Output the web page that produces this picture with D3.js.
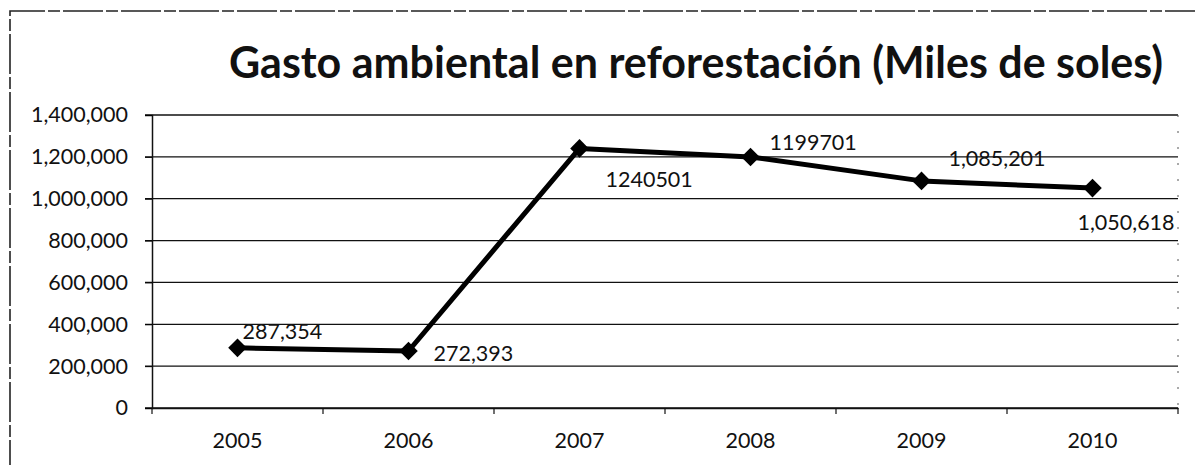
<!DOCTYPE html>
<html>
<head>
<meta charset="utf-8">
<script src="https://cdn.jsdelivr.net/npm/d3@7"></script>
<style>
  body { margin: 0; background: #fff; }
  text { font-family: Lato, "Open Sans", sans-serif; fill: #111; }
</style>
</head>
<body>
<svg id="chart" width="1195" height="465"></svg>
<script>
'use strict';

(() => {
  const years = ['2005', '2006', '2007', '2008', '2009', '2010'];
  const values = [287354, 272393, 1240501, 1199701, 1085201, 1050618];
  const labels = ['287,354', '272,393', '1240501', '1199701', '1,085,201', '1,050,618'];
  // label offset from the point: [dx, dy]
  const labelPos = [[5, -9], [25, 10], [26, 39], [19, -7], [27, -15], [-15, 42]];
  const yTicks = [0, 200000, 400000, 600000, 800000, 1000000, 1200000, 1400000];

  //dimensions
  const m = { left: 152, right: 1178, top: 115, bottom: 408 };
  const fs = '21.5px';
  const svg = d3.select('#chart');

  //outer dashed frame
  svg.append('path')
    .attr('d', 'M 10 480 L 10 11 L 1200 11')
    .attr('fill', 'none')
    .attr('stroke', '#222')
    .attr('stroke-width', 1.6)
    .attr('stroke-dasharray', '40 3 12 3');

  svg.append('text')
    .attr('x', 696)
    .attr('y', 78)
    .attr('text-anchor', 'middle')
    .style('font-size', '43px')
    .style('font-weight', 'bold')
    .text('Gasto ambiental en reforestación (Miles de soles)');

  const x = d3.scaleBand().domain(years).range([m.left, m.right]);
  const y = d3.scaleLinear().domain([0, 1400000]).range([m.bottom, m.top]);

  //grid
  svg.append('g')
    .selectAll('line')
    .data(yTicks)
    .join('line')
    .attr('x1', m.left - 7)
    .attr('x2', m.right)
    .attr('y1', (d) => y(d))
    .attr('y2', (d) => y(d))
    .attr('stroke', '#111')
    .attr('stroke-width', 1.3);

  //y axis
  const yAxis = svg.append('g')
    .attr('transform', `translate(${m.left},0)`)
    .call(d3.axisLeft(y).tickValues(yTicks).tickSize(7).tickPadding(17).tickFormat(d3.format(',')));
  yAxis.select('.domain').attr('stroke', '#111').attr('stroke-width', 1.5);
  yAxis.selectAll('text').style('font-size', fs).attr('fill', '#111');

  //x axis
  const xAxis = svg.append('g')
    .attr('transform', `translate(0,${m.bottom})`)
    .call(d3.axisBottom(x).tickSize(0).tickPadding(25));
  xAxis.select('.domain').attr('stroke', '#111').attr('stroke-width', 1.5);
  xAxis.selectAll('text').style('font-size', fs).attr('fill', '#111');
  svg.append('g')
    .selectAll('line')
    .data(years.concat(['end']))
    .join('line')
    .attr('x1', (d, i) => m.left + i * x.step())
    .attr('x2', (d, i) => m.left + i * x.step())
    .attr('y1', m.bottom)
    .attr('y2', m.bottom + 6)
    .attr('stroke', '#111')
    .attr('stroke-width', 1.2);

  //right edge
  svg.append('line')
    .attr('x1', m.right).attr('x2', m.right)
    .attr('y1', m.top).attr('y2', m.bottom)
    .attr('stroke', '#555')
    .attr('stroke-width', 1)
    .attr('stroke-dasharray', '2 14');

  const data = years.map((yr, i) => ({ year: yr, value: values[i], label: labels[i], pos: labelPos[i] }));
  const cx = (d) => x(d.year) + x.bandwidth() / 2;

  svg.append('path')
    .datum(data)
    .attr('d', d3.line().x(cx).y((d) => y(d.value)))
    .attr('fill', 'none')
    .attr('stroke', '#000')
    .attr('stroke-width', 5)
    .attr('stroke-linejoin', 'round');

  svg.append('g')
    .selectAll('path')
    .data(data)
    .join('path')
    .attr('d', d3.symbol(d3.symbolDiamond2, 220))
    .attr('transform', (d) => `translate(${cx(d)},${y(d.value)})`)
    .attr('fill', '#000');

  svg.append('g')
    .selectAll('text')
    .data(data)
    .join('text')
    .attr('x', (d) => cx(d) + d.pos[0])
    .attr('y', (d) => y(d.value) + d.pos[1])
    .style('font-size', fs)
    .text((d) => d.label);
})();
</script>
</body>
</html>
